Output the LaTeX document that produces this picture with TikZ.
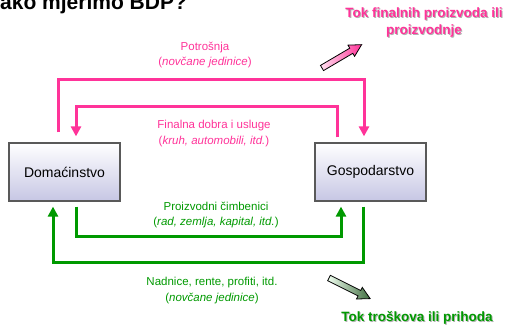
\documentclass[tikz,border=0pt]{standalone}
\usepackage{fontspec}
\setmainfont{Liberation Sans}
\usepackage{tikz}
\usetikzlibrary{arrows.meta, positioning, calc}
\definecolor{flowpink}{HTML}{FF3399}
\definecolor{flowgreen}{HTML}{009900}
\definecolor{boxlav}{HTML}{C6C6E4}
\tikzset{
  agent/.style    = {draw=black!65, line width=1.2pt, top color=white,
                     bottom color=boxlav, minimum width=111pt,
                     minimum height=58pt, inner sep=0pt,
                     font=\fontsize{14}{17}\selectfont},
  pinkflow/.style = {line width=3pt, flowpink,
                     -{Triangle[length=10pt, width=10pt]}},
  greenflow/.style= {line width=3pt, flowgreen,
                     -{Triangle[length=10pt, width=10pt]}},
  flowtext/.style = {align=center, inner sep=0pt,
                     font=\fontsize{11.5}{15.5}\selectfont},
  headtext/.style = {align=center, inner sep=0pt,
                     font=\bfseries\fontsize{13.5}{17}\selectfont},
  fatarrow/.style = {draw=black, line width=0.8pt, line join=miter},
}
% block arrow along the local x axis, 46pt long
\newcommand{\blockarrow}{(0,-3) -- (34,-3) -- (34,-6.5) -- (46,0)
  -- (34,6.5) -- (34,3) -- (0,3) -- cycle}

\begin{document}
\begin{tikzpicture}[x=1pt, y=-1pt]
    \useasboundingbox (0,0) rectangle (507,329);

    % --- heading, cut by the top edge ---
    \node[anchor=base west, inner sep=0pt,
      font=\bfseries\fontsize{21}{25}\selectfont] (title) at (0,10)
      {ako mjerimo BDP?};

    % --- sectors ---
    \node[agent] (dom)  at (64.5,172)  {Domaćinstvo};
    \node[agent] (gosp) at (370.5,172) {Gospodarstvo};

    % --- pink loops ---
    \draw[pinkflow] ([xshift=-6.5pt, yshift=10pt]dom.north) -- ++(0,-53)
      -| ([xshift=-6.5pt, yshift=6pt]gosp.north);
    \draw[pinkflow] ([xshift=-33pt, yshift=5pt]gosp.north) -- ++(0,-31)
      -| ([xshift=11.5pt, yshift=6pt]dom.north);

    % --- green loops ---
    \draw[greenflow] ([xshift=11.5pt, yshift=-5pt]dom.south) -- ++(0,30)
      -| ([xshift=-29.5pt, yshift=-5pt]gosp.south);
    \draw[greenflow] ([xshift=-7pt, yshift=-5pt]gosp.south) -- ++(0,56)
      -| ([xshift=-11.5pt, yshift=-5pt]dom.south);

    % --- loop labels ---
    \node[flowtext, text=flowpink] (potr) at (205,55)
      {Potrošnja\\(\textit{novčane jedinice})};
    \node[flowtext, text=flowpink] (dobra) at (214,133.5)
      {Finalna dobra i usluge\\(\textit{kruh, automobili, itd.})};
    \node[flowtext, text=flowgreen] (cimb) at (216,215)
      {Proizvodni čimbenici\\(\textit{rad, zemlja, kapital, itd.})};
    \node[flowtext, text=flowgreen] (nadn) at (212,290.5)
      {Nadnice, rente, profiti, itd.\\(\textit{novčane jedinice})};

    % --- flow headings with shadow ---
    \node[headtext, text=black!30] (prodshadow) at (425,23.5)
      {Tok finalnih proizvoda ili\\proizvodnje};
    \node[headtext, text=flowpink] (prod) at (424,22.5)
      {Tok finalnih proizvoda ili\\proizvodnje};
    \node[headtext, text=black!30] (costshadow) at (418,319)
      {Tok troškova ili prihoda};
    \node[headtext, text=flowgreen] (cost) at (417,318)
      {Tok troškova ili prihoda};

    % --- block arrows ---
    \begin{scope}[shift={(322,68)}, rotate=30.5, y=1pt]
      \draw[fatarrow, left color=flowpink!15, right color=flowpink]
        \blockarrow;
    \end{scope}
    \begin{scope}[shift={(329,278)}, rotate=-26.6, y=1pt]
      \draw[fatarrow, left color=green!6!white,
        right color=flowgreen!40!black!75] \blockarrow;
    \end{scope}
\end{tikzpicture}
\end{document}
